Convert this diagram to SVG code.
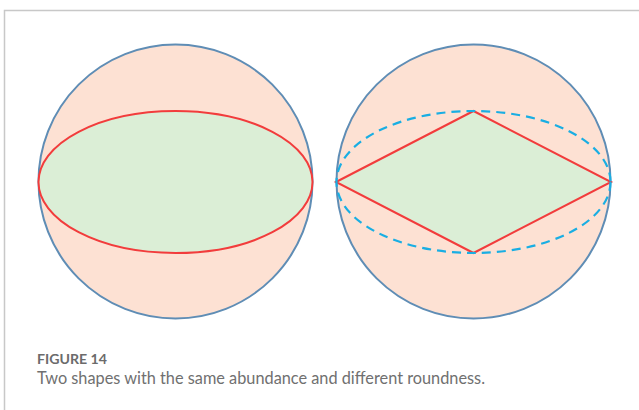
<svg xmlns="http://www.w3.org/2000/svg" width="639" height="410" viewBox="0 0 639 410">
<style>
.frame{fill:none;stroke:#c8c8c8;stroke-width:1.5}
.ball{fill:#fde1d3;stroke:#5f8db5;stroke-width:2}
.inner{fill:#dbeed6;stroke:#f23c3c;stroke-width:2}
.dash{fill:none;stroke:#19aee3;stroke-width:2.2;stroke-dasharray:9 6}
.t1{font-family:Lato,"Open Sans",sans-serif;font-size:12.5px;font-weight:bold;fill:#6b6b6b}
.t2{font-family:Lato,"Open Sans",sans-serif;font-size:16.5px;fill:#707070}
</style>
<path class="frame" d="M4.5 410 V10.5 H639"/>
<g id="left-shape">
<circle class="ball" cx="175.5" cy="181.5" r="137"/>
<ellipse class="inner" cx="175.5" cy="182" rx="137" ry="71"/>
</g>
<g id="right-shape">
<circle class="ball" cx="473.5" cy="181.5" r="137"/>
<polygon class="inner" points="336,182 473.5,111 611,182 473.5,253"/>
<ellipse class="dash" cx="473.5" cy="182" rx="137" ry="71"/>
</g>
<g id="caption">
<text class="t1" x="37" y="364" textLength="70" lengthAdjust="spacingAndGlyphs">FIGURE 14</text>
<text class="t2" x="37" y="383.5" textLength="448" lengthAdjust="spacingAndGlyphs">Two shapes with the same abundance and different roundness.</text>
</g>
</svg>
